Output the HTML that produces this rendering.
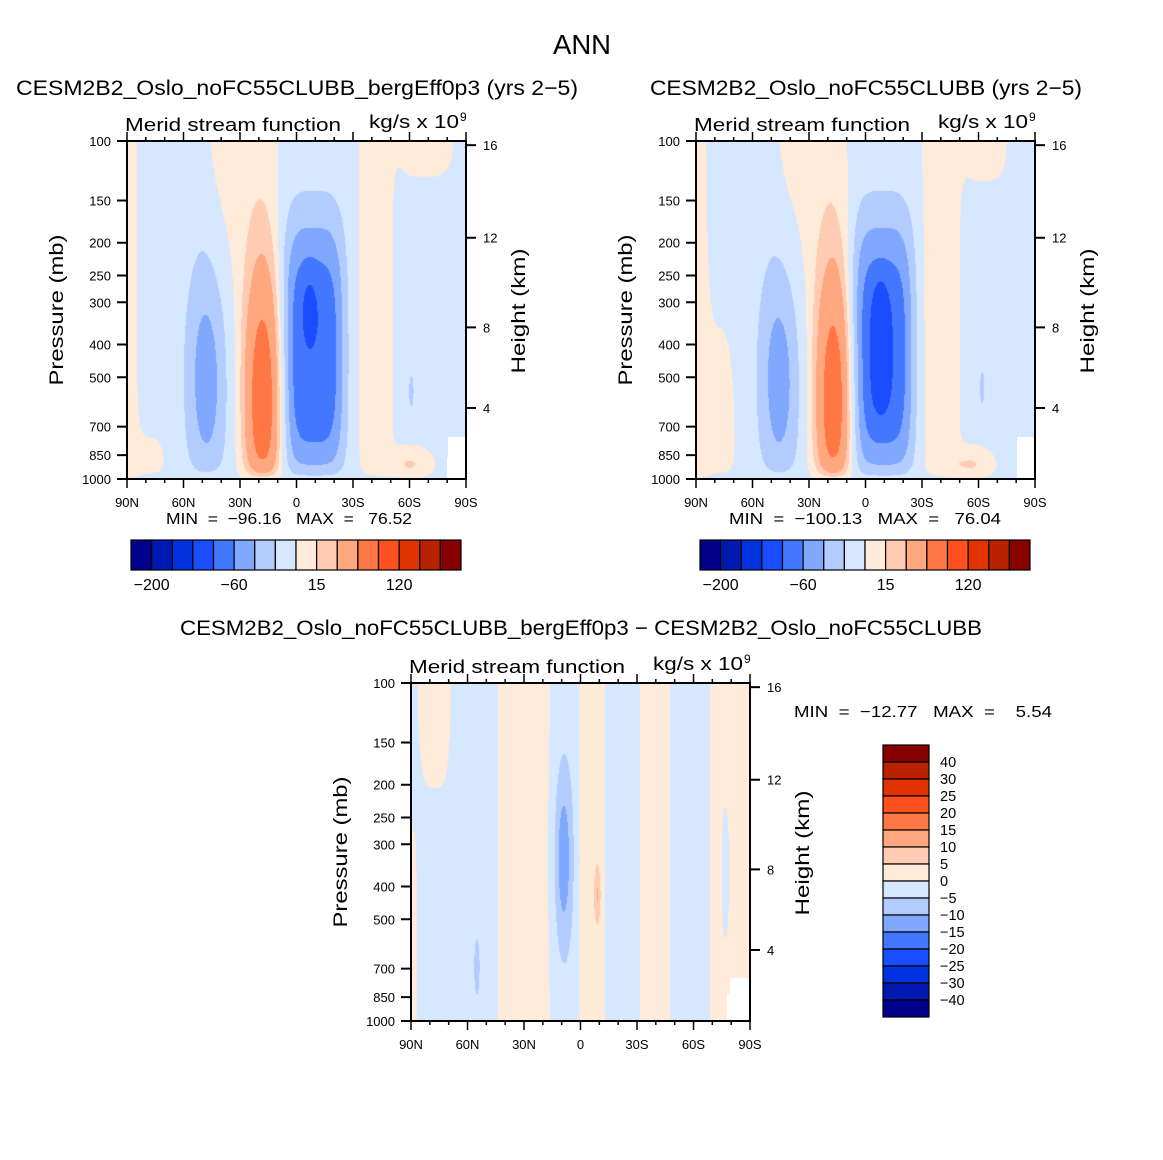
<!DOCTYPE html>
<html><head><meta charset="utf-8">
<style>
html,body{margin:0;padding:0;background:#fff;}
#wrap{position:relative;width:1163px;height:1160px;overflow:hidden;background:#fff;}
canvas{position:absolute;}
svg{position:absolute;left:0;top:0;}
text{font-family:"Liberation Sans",sans-serif;fill:#000;white-space:pre;}
</style></head>
<body>
<div id="wrap">
<canvas id="c1" width="339" height="338" style="left:127px;top:141px"></canvas>
<canvas id="c2" width="339" height="338" style="left:696px;top:141px"></canvas>
<canvas id="c3" width="339" height="338" style="left:411px;top:683px"></canvas>
<svg id="ov" width="1163" height="1160" viewBox="0 0 1163 1160"></svg>
</div>
<script>
// ---- data ----
const colors = ['#00008b','#0019b0','#0033dd','#1a4dff','#4477ff','#80a8ff','#b3ccff','#d6e8ff','#ffebd9','#ffccb3','#ffa880','#ff7744','#ff5020','#e03300','#b82200','#880000'];
const levelsAbs = [-200,-150,-100,-80,-60,-40,-20,0,15,30,60,90,120,150,200];
const levelsDiff = [-40,-30,-25,-20,-15,-10,-5,0,5,10,15,20,25,30,40];
const cbLabelsAbs = ['−200','−60','15','120'];
const cbLabelIdxAbs = [1,5,9,13];
const cbLabelsDiff = ['40','30','25','20','15','10','5','0','−5','−10','−15','−20','−25','−30','−40'];
const pressTicks = [100,150,200,250,300,400,500,700,850,1000];
const latTicks = [90,60,30,0,-30,-60,-90];
const latTickLabels = ['90N','60N','30N','0','30S','60S','90S'];
const heightTicks = [4,8,12,16];

// field components: centre latitude, centre pressure, amplitude, lat spread, lat exponent, log-p spread (decades), log-p exponent
const p1Base = -5;
const p1Lat  = [18, -9, -7, 47.5, 29, -42, -68, -60, 88, 82, -61];
const p1Pres = [600, 427, 300, 501, 100, 316, 100, 933, 316, 933, 550];
const p1Amp  = [85, -72, -14, -48, 12, 12, 10, 28, 10, 10, -20];
const p1SLat = [7, 14, 3, 8.1, 16, 8, 14, 8, 3, 12, 1.5];
const p1QLat = [2, 4, 2, 2, 4, 4, 4, 2, 2, 4, 2];
const p1SDec = [0.29, 0.33, 0.08, 0.267, 0.5, 1.0, 0.09, 0.04, 3, 0.08, 0.06];
const p1QDec = [2, 3, 2, 2, 2, 2, 2, 2, 2, 2, 2];

const p2Base = -5;
const p2Lat  = [17, -9, -8, 45.5, 29, -40, -63, -56, 88, 82, -62];
const p2Pres = [600, 427, 400, 501, 100, 316, 100, 933, 316, 800, 537];
const p2Amp  = [82, -72, -22, -48, 12, 12, 10, 28, 10, 10, -20];
const p2SLat = [7, 14, 3.5, 8.1, 16, 9, 11, 8, 3, 12, 1.5];
const p2QLat = [2, 4, 2, 2, 4, 4, 4, 2, 2, 4, 2];
const p2SDec = [0.29, 0.33, 0.18, 0.267, 0.5, 1.0, 0.1, 0.04, 3, 0.3, 0.06];
const p2QDec = [2, 3, 4, 2, 2, 2, 2, 2, 2, 2, 2];

const p3Base = -2.5;
const p3Lat  = [30, -6, -9, -39.5, -79.5, -77, 77.5, 9, 55, 89];
const p3Pres = [316, 316, 422, 316, 316, 363, 100, 331, 692, 631];
const p3Amp  = [5, 5, 8, 5, 5, -4, 5, -11, -5, 5];
const p3SLat = [12.7, 6.4, 1.2, 7.3, 9.7, 2, 8, 3.3, 1.2, 2];
const p3QLat = [4, 4, 2, 4, 4, 2, 4, 2, 2, 2];
const p3SDec = [3, 3, 0.06, 3, 3, 0.2, 0.264, 0.183, 0.07, 0.3];
const p3QDec = [2, 2, 2, 2, 2, 2, 2, 2, 2, 2];

const p1Min = '−96.16', p1Max = '76.52';
const p2Min = '−100.13', p2Max = '76.04';
const p3Min = '−12.77', p3Max = '5.54';

// ---- helpers ----
const NS = 'http://www.w3.org/2000/svg';
const ov = document.getElementById('ov');
function mk(tag, attrs, parent){
  const e = document.createElementNS(NS, tag);
  for (const k in attrs) e.setAttribute(k, attrs[k]);
  (parent||ov).appendChild(e); return e;
}
function txt(s, x, y, size, anchor, len, name, parent){
  const t = mk('text', {x:x, y:y, 'font-size':size, 'text-anchor':anchor||'start'}, parent);
  if (len){ t.setAttribute('textLength', len); t.setAttribute('lengthAdjust','spacingAndGlyphs'); }
  
  
  t.textContent = s; return t;
}
function hex(c){ return [parseInt(c.substr(1,2),16),parseInt(c.substr(3,2),16),parseInt(c.substr(5,2),16)]; }
const rgb = colors.map(hex);
function zToP(zkm){ const z=zkm*1000; return z<=11000 ? 1013.25*Math.pow(1-2.25577e-5*z,5.25588) : 226.32*Math.exp(-(z-11000)/6341.6); }

function drawField(id, base, lat, pres, amp, sLat, qLat, sDec, qDec, levels, damp, W, H){
  const cv = document.getElementById(id), ctx = cv.getContext('2d');
  const img = ctx.createImageData(W, H);
  const yc = pres.map(p => Math.log10(p/100));
  for (let py=0; py<H; py++){
    const yf = (py+0.5)/H;
    const d = damp ? 1-Math.exp(-(1.005-yf)/0.03) : 1;
    for (let px=0; px<W; px++){
      const la = 90 - (px+0.5)/W*180;
      let v = base;
      for (let i=0;i<lat.length;i++){
        const a = Math.pow(Math.abs(la-lat[i])/sLat[i], qLat[i]);
        const b = Math.pow(Math.abs(yf-yc[i])/sDec[i], qDec[i]);
        v += amp[i]*Math.exp(-0.5*(a+b))*d;
      }
      let k=0; while(k<levels.length && v>=levels[k]) k++;
      const c = rgb[k], o=(py*W+px)*4;
      img.data[o]=c[0]; img.data[o+1]=c[1]; img.data[o+2]=c[2]; img.data[o+3]=255;
    }
  }
  ctx.putImageData(img,0,0);
}

function drawAxes(x0, y0, W, H, key, mask){
  const g = mk('g', {});
  
  
  const xOf = la => x0 + (90-la)/180*W;
  const yOf = p => y0 + Math.log10(p/100)*H;
  if (mask){
    const m = mk('polygon', {points: mask.map(q=>q.join(',')).join(' '), fill:'#fff'}, g);
    
    
  }
  const fr = mk('rect', {x:x0, y:y0, width:W, height:H, fill:'none', stroke:'#000', 'stroke-width':2}, g);
  
  
  for (let la=90; la>=-90; la-=10){
    const major = la%30===0, L = major?9:4, x=xOf(la);
    mk('line', {x1:x, y1:y0+H, x2:x, y2:y0+H+L, stroke:'#000', 'stroke-width':1.5}, g);
    mk('line', {x1:x, y1:y0, x2:x, y2:y0-L, stroke:'#000', 'stroke-width':1.5}, g);
  }
  latTicks.forEach((la,i)=>txt(latTickLabels[i], xOf(la), y0+H+28, 13, 'middle', null, key+'-x-tick-label', g));
  pressTicks.forEach(p=>{
    const y=yOf(p);
    mk('line', {x1:x0-10, y1:y, x2:x0, y2:y, stroke:'#000', 'stroke-width':2}, g);
    txt(String(p), x0-16, y+5, 13, 'end', null, key+'-y-tick-label', g);
  });
  heightTicks.forEach(z=>{
    const y=yOf(zToP(z));
    mk('line', {x1:x0+W, y1:y, x2:x0+W+10, y2:y, stroke:'#000', 'stroke-width':2}, g);
    txt(String(z), x0+W+17, y+5, 13, 'start', null, key+'-right-tick-label', g);
  });
  txt('Merid stream function', x0-2, y0-10, 18, 'start', 216, key+'-subtitle-left', g);
  txt('kg/s x 10', x0+242, y0-13, 18, 'start', 90, key+'-units', g);
  txt('9', x0+333, y0-20, 12, 'start', null, key+'-units-exponent', g);
  const yt = txt('Pressure (mb)', 0, 0, 19, 'middle', 151, key+'-y-axis-title', g);
  yt.setAttribute('transform', 'translate('+(x0-64)+','+(y0+169)+') rotate(-90)');
  const rt = txt('Height (km)', 0, 0, 19, 'middle', 125, key+'-right-axis-title', g);
  rt.setAttribute('transform', 'translate('+(x0+W+59)+','+(y0+170)+') rotate(-90)');
}

function hColorbar(x0, y0, W, H, key){
  const g = mk('g', {});
  
  
  const bw = W/colors.length;
  colors.forEach((c,i)=>{
    const r = mk('rect', {x:x0+i*bw, y:y0, width:bw, height:H, fill:c, stroke:'#000', 'stroke-width':1.2}, g);
    
    
  });
  cbLabelsAbs.forEach((s,i)=>txt(s, x0+cbLabelIdxAbs[i]*bw, y0+H+20, 16, 'middle', null, key+'-colorbar-label', g));
}

// ---- render ----
drawField('c1', p1Base, p1Lat, p1Pres, p1Amp, p1SLat, p1QLat, p1SDec, p1QDec, levelsAbs, true, 339, 338);
drawField('c2', p2Base, p2Lat, p2Pres, p2Amp, p2SLat, p2QLat, p2SDec, p2QDec, levelsAbs, true, 339, 338);
drawField('c3', p3Base, p3Lat, p3Pres, p3Amp, p3SLat, p3QLat, p3SDec, p3QDec, levelsDiff, false, 339, 338);

txt('ANN', 582, 54, 28, 'middle', 58, 'figure-title');
txt('CESM2B2_Oslo_noFC55CLUBB_bergEff0p3 (yrs 2−5)', 16, 95, 21, 'start', 562, 'panel-1-title');
txt('CESM2B2_Oslo_noFC55CLUBB (yrs 2−5)', 650, 95, 21, 'start', 432, 'panel-2-title');
txt('CESM2B2_Oslo_noFC55CLUBB_bergEff0p3 − CESM2B2_Oslo_noFC55CLUBB', 180, 635, 21, 'start', 802, 'difference-title');

drawAxes(127, 141, 339, 338, 'panel-1', [[447,480],[447,457],[448,457],[448,437],[467,437],[467,480]]);
drawAxes(696, 141, 339, 338, 'panel-2', [[1017,480],[1017,437],[1036,437],[1036,480]]);
drawAxes(411, 683, 339, 338, 'difference', [[727,1022],[727,995],[730,995],[730,978],[751,978],[751,1022]]);

txt('MIN  =  '+p1Min+'   MAX  =   '+p1Max, 166, 524, 16, 'start', 246, 'panel-1-min-max');
txt('MIN  =  '+p2Min+'   MAX  =   '+p2Max, 729, 524, 16, 'start', 272, 'panel-2-min-max');
txt('MIN  =  '+p3Min+'   MAX  =    '+p3Max, 794, 717, 16, 'start', 258, 'difference-min-max');

hColorbar(131, 540, 330, 30, 'panel-1');
hColorbar(700, 540, 330, 30, 'panel-2');

const vg = mk('g', {});


const vbh = 272/colors.length;
colors.slice().reverse().forEach((c,i)=>{
  const r = mk('rect', {x:883, y:745+i*vbh, width:46, height:vbh, fill:c, stroke:'#000', 'stroke-width':1.2}, vg);
  
  
});
cbLabelsDiff.forEach((s,i)=>txt(s, 940, 745+(i+1)*vbh+5, 14.5, 'start', null, 'difference-colorbar-label', vg));
</script>
</body></html>
